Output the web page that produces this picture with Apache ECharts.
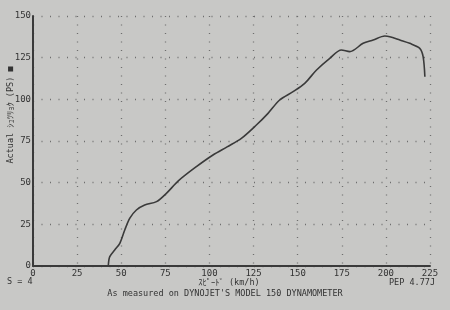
<!DOCTYPE html>
<html><head><meta charset="utf-8">
<script src="https://cdn.jsdelivr.net/npm/echarts@6/dist/echarts.min.js"></script>
<style>html,body{margin:0;padding:0;background:#c8c8c6}#c{width:450px;height:310px}</style>
</head><body><div id="c"></div>
<script>
var speed = [42.7, 43.5, 46.3, 49.2, 52, 54.8, 58.6, 63.3, 70, 75.6, 82.5, 92.6, 102, 110, 118.1, 126.6, 133.2, 139.8, 147.4, 154, 160.7, 168.2, 174.8, 179.5, 187.1, 192.8, 199.4, 202.2, 207.9, 213.5, 219.2, 221.1, 222.1];
var power = [0.6, 5.6, 9.6, 13.6, 21.6, 28.6, 33.6, 36.6, 38.6, 43.6, 51.2, 59.6, 66.6, 71.5, 76.6, 84.6, 91.6, 99.6, 104.6, 109.6, 117.6, 124.6, 129.6, 128.6, 133.6, 135.6, 138, 137.6, 135.6, 133.6, 130.6, 125.6, 113.6];
var xTicks = [0, 25, 50, 75, 100, 125, 150, 175, 200, 225];
var yTicks = [0, 25, 50, 75, 100, 125, 150];
var yName = 'Actual ｼｭﾂﾘｮｸ (PS) ■';
var xName = 'ｽﾋﾟｰﾄﾞ (km/h)';
var footer = "As measured on DYNOJET'S MODEL 150 DYNAMOMETER";
var leftNote = 'S = 4';
var rightNote = 'PEP 4.77J';

var pts = speed.map(function (s, i) { return [s, power[i]]; });
var font = '"DejaVu Sans Mono", "Noto Sans CJK JP", monospace';
var txtColor = '#333333';
var chart = echarts.init(document.getElementById('c'));
chart.setOption({
  backgroundColor: '#c8c8c6',
  animation: false,
  grid: { left: 33, right: 20, top: 16, bottom: 44 },
  xAxis: {
    type: 'value', min: xTicks[0], max: xTicks[xTicks.length - 1], interval: 25,
    axisLine: { show: true, onZero: false, lineStyle: { color: '#3a3a3a', width: 2 } },
    axisTick: { show: false },
    axisLabel: { color: txtColor, fontFamily: font, fontSize: 9, margin: 3 },
    splitLine: { show: true, lineStyle: { color: '#6e6e6e', width: 1.3, type: [1, 7.5] } }
  },
  yAxis: {
    type: 'value', min: yTicks[0], max: yTicks[yTicks.length - 1], interval: 25,
    axisLine: { show: true, lineStyle: { color: '#3a3a3a', width: 2 } },
    axisTick: { show: false },
    axisLabel: { color: txtColor, fontFamily: font, fontSize: 9, margin: 2 },
    splitLine: { show: true, lineStyle: { color: '#6e6e6e', width: 1.3, type: [1, 7.5] } }
  },
  graphic: [
    { type: 'text', x: 11, y: 115, rotation: Math.PI / 2,
      style: { text: yName, fill: txtColor, font: '8.5px ' + font, align: 'center', verticalAlign: 'middle' } },
    { type: 'text', x: 229, y: 283,
      style: { text: xName, fill: txtColor, font: '8.5px ' + font, align: 'center', verticalAlign: 'middle' } },
    { type: 'text', x: 225, y: 294,
      style: { text: footer, fill: txtColor, font: '8.5px ' + font, align: 'center', verticalAlign: 'middle' } },
    { type: 'text', x: 7, y: 282,
      style: { text: leftNote, fill: txtColor, font: '8.5px ' + font, align: 'left', verticalAlign: 'middle' } },
    { type: 'text', x: 435, y: 283,
      style: { text: rightNote, fill: txtColor, font: '8.5px ' + font, align: 'right', verticalAlign: 'middle' } }
  ],
  series: [{
    type: 'line', data: pts, showSymbol: false, smooth: 0.3,
    lineStyle: { color: '#3a3a3a', width: 1.6 }
  }]
});
</script></body></html>
